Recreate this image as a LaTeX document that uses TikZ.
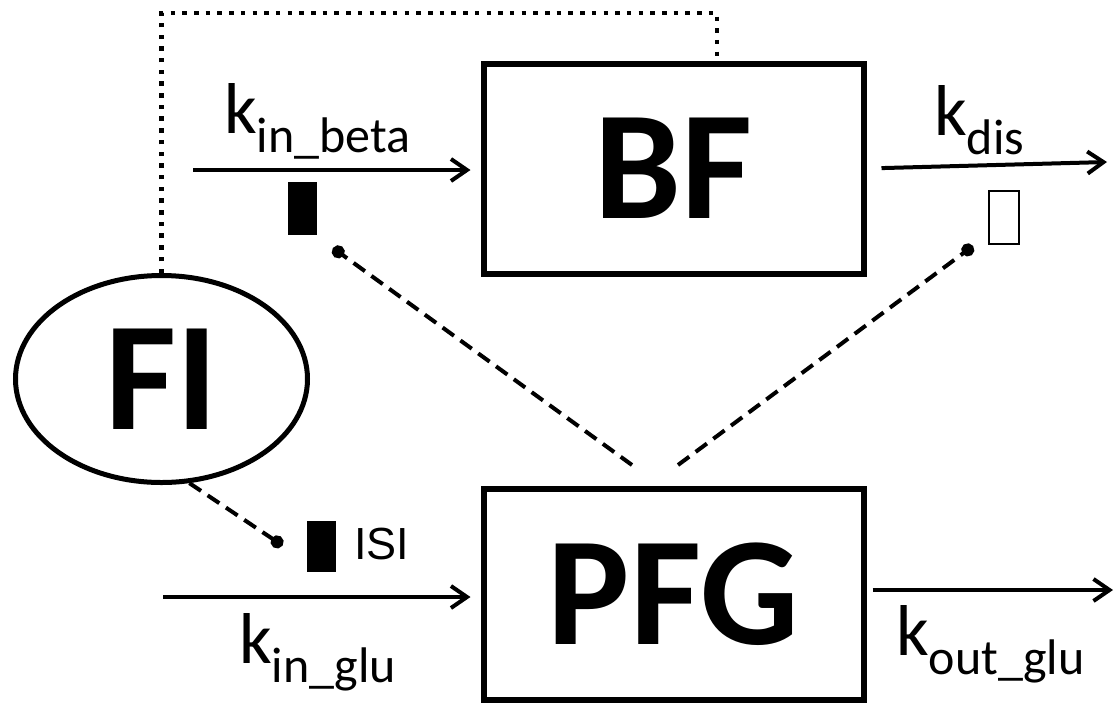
\documentclass[tikz,border=0pt]{standalone}
\usepackage{fontspec}
\setmainfont{Carlito}
\newfontfamily\isifont{Liberation Sans}
\usepackage{tikz}
\usetikzlibrary{arrows.meta,positioning,shapes.geometric}

\newcommand{\rate}[1]{{\fontsize{72}{72}\selectfont k}\raisebox{-19pt}{\fontsize{50}{50}\selectfont #1}}

\tikzset{
  pool/.style={draw, line width=6pt, minimum width=380pt, minimum height=210pt, inner sep=0pt,
    font=\fontsize{155}{155}\selectfont\bfseries},
  flow/.style={line width=4pt, -{Straight Barb[length=16pt,width=22pt]}},
  inh/.style={line width=4pt, dash pattern=on 14pt off 8pt, -{Circle[length=13pt]}},
  dots/.style={line width=4.5pt, dash pattern=on 4.5pt off 7.2pt},
  blocker/.style={fill=black, minimum width=29pt, minimum height=53pt, inner sep=0pt},
  ratelab/.style={anchor=base west, inner sep=0pt}
}

\begin{document}
\begin{tikzpicture}[x=1pt,y=-1pt]
\useasboundingbox (0,0) rectangle (1116,702);

% compartments
\node[pool] (bf) at (673.5,168.5) {BF};
\node[pool, minimum height=211pt] (pfg) at (673.5,594) {PFG};
\node[ellipse, draw, line width=5pt, minimum width=292pt, minimum height=207pt, inner sep=0pt,
  font=\fontsize{155}{155}\selectfont\bfseries] (fi) at (161.5,379) {FI};

% inflow / outflow
\coordinate (inbeta) at (193,170);
\coordinate (dis) at (1107,162);
\coordinate (inglu) at (163,597);
\coordinate (outglu) at (1113,590);

\draw[flow, shorten >=10pt] (inbeta) -- (inbeta -| bf.west);
\draw[flow, shorten <=15pt] (bf.east) -- (dis);
\draw[flow, shorten >=10pt] (inglu) -- (inglu -| pfg.west);
\draw[flow, shorten <=6pt] (pfg.east |- outglu) -- (outglu);

\node[ratelab] (lbeta) at (224,133) {\rate{in\_beta}};
\node[ratelab] (ldis) at (934,135) {\rate{dis}};
\node[ratelab] (lin) at (239,663) {\rate{in\_glu}};
\node[ratelab] (lout) at (896,655) {\rate{out\_glu}};

% effects
\node[blocker] (mbeta) at (302.5,208.5) {};
\node[blocker, minimum height=51pt] (misi) at (321.5,546.5) {};
\node[draw, line width=2pt, minimum width=30pt, minimum height=53pt, inner sep=0pt] (mdis) at (1004,217.5) {};
\node[right=18pt of misi, yshift=3pt, inner sep=0pt, font=\isifont\fontsize{45}{45}\selectfont] (isi) {ISI};

\coordinate (pl) at (632,465);
\coordinate (pr) at (678,465);
\coordinate (dbeta) at (333,248);
\coordinate (ddis) at (973,246);
\coordinate (disi) at (282.5,545.5);

\draw[inh] (pl) -- (dbeta);
\draw[inh] (pr) -- (ddis);
\draw[inh] (fi.-75) -- (disi);

% feedback
\coordinate (loop) at (717,13);
\draw[dots] (fi.north) |- (loop) -- (loop |- bf.north);

\end{tikzpicture}
\end{document}
